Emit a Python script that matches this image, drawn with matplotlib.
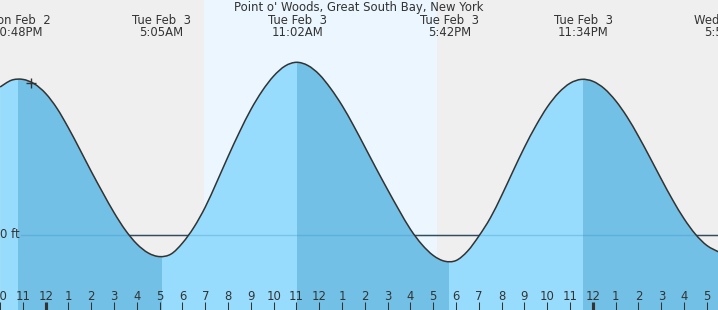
import numpy as np
from matplotlib import pyplot as plt
import matplotlib.transforms as mtransforms
from matplotlib.path import Path
from matplotlib.patches import PathPatch

# tide heights (ft), every half hour from Mon 10PM (hour -2 = 10PM Feb 2)
start_hour = -2.0
step = 0.5
heights = [1.48, 1.548, 1.556, 1.512,
           1.415, 1.265, 1.07, 0.855, 0.635, 0.425, 0.223, 0.047, -0.09, -0.18,
           -0.216, -0.19, -0.08, 0.077, 0.28, 0.528, 0.785, 1.03, 1.255, 1.442,
           1.59, 1.69, 1.727, 1.695, 1.605, 1.465, 1.295, 1.095, 0.88, 0.663,
           0.452, 0.248, 0.056, -0.095, -0.205, -0.262, -0.255, -0.162, -0.01, 0.17,
           0.396, 0.64, 0.878, 1.093, 1.28, 1.423, 1.518, 1.5565, 1.537, 1.464,
           1.342, 1.181, 0.987, 0.776, 0.559, 0.35, 0.162, 0.007, -0.105, -0.1675]

# high / low events (hours from Tue Feb 3 00:00)
event_hours = [-1.2, 5.083, 11.033, 17.7, 23.567, 29.833]
event_days = ['Mon Feb  2', 'Tue Feb  3', 'Tue Feb  3', 'Tue Feb  3', 'Tue Feb  3', 'Wed Feb  4']
event_times = ['10:48PM', '5:05AM', '11:02AM', '5:42PM', '11:34PM', '5:50AM']

# falling tide (high -> low) shaded darker
falling = [(-1.2, 5.083), (11.033, 17.7), (23.567, 29.833)]

sunrise = 6.95
sunset = 17.16

now_hour = -0.66
now_height = 1.52

tick_hours = list(range(-2, 30))
tick_labels = ['10', '11', '12', '1', '2', '3', '4', '5', '6', '7', '8', '9', '10', '11',
               '12', '1', '2', '3', '4', '5', '6', '7', '8', '9', '10', '11',
               '12', '1', '2', '3', '4', '5']
midnights = [0, 24]

title = "Point o' Woods, Great South Bay, New York"

hours = start_hour + step * np.arange(len(heights))

W, H = 718, 310
fig = plt.figure(figsize=(W / 100, H / 100), dpi=100)
ax = fig.add_axes([0, 0, 1, 1])
ax.set_xlim(-2.004, 29.487)
ax.set_ylim(-0.75, 2.35)
ax.set_facecolor('#efefef')
for s in ax.spines.values():
    s.set_visible(False)
ax.set_xticks([])
ax.set_yticks([])

txt = '#333333'
fs = 8.4
plt.rcParams['font.family'] = ['DejaVu Sans']

# smooth path through the points (catmull-rom as bezier)
pts = np.column_stack([hours, heights])
verts = [pts[0]]
codes = [Path.MOVETO]
n = len(pts)
for i in range(n - 1):
    p0 = pts[max(i - 1, 0)]
    p1 = pts[i]
    p2 = pts[i + 1]
    p3 = pts[min(i + 2, n - 1)]
    verts += [p1 + (p2 - p0) / 6, p2 - (p3 - p1) / 6, p2]
    codes += [Path.CURVE4] * 3
curve = Path(verts, codes)
water = Path(verts + [(hours[-1], -1), (hours[0], -1), pts[0]],
             codes + [Path.LINETO, Path.LINETO, Path.CLOSEPOLY])

# daylight
ax.axvspan(sunrise, sunset, color='#ebf6fe', lw=0, zorder=0)

# zero line under the water
ax.axhline(0, xmin=21 / W, color='#333333', lw=1, zorder=1)

# water
ax.add_patch(PathPatch(water, fc='#97dcfc', lw=0, zorder=2))
for a, b in falling:
    r = ax.axvspan(a, b, color='#72c0e5', lw=0, zorder=3)
    r.set_clip_path(water, ax.transData)

ax.axhline(0, xmin=21 / W, color='#2f8cc4', alpha=0.3, lw=1, zorder=4)

ax.add_patch(PathPatch(curve, fill=False, ec='#333333', lw=1.1, zorder=5))
ax.plot([now_hour], [now_height], marker='+', color='#333333', ms=7.5, mew=1, zorder=6)

ax.text(20 / W * 31.491 - 2.004, 0, '0 ft', ha='right', va='center', fontsize=fs, color=txt)

# labels on top / bottom in pixel rows
trans = mtransforms.blended_transform_factory(ax.transData, ax.transAxes)
def py(p):
    return 1 - p / H

for h, d, t in zip(event_hours, event_days, event_times):
    ax.text(h, py(24), d, ha='center', va='baseline', fontsize=fs, color=txt, transform=trans)
    ax.text(h, py(35.8), t, ha='center', va='baseline', fontsize=fs, color=txt, transform=trans)

ax.text(0.5, py(11), title, ha='center', va='baseline', fontsize=fs, color=txt,
        transform=ax.transAxes)

for h, lab in zip(tick_hours, tick_labels):
    ax.text(h, py(300), lab, ha='center', va='baseline', fontsize=fs, color=txt, transform=trans)
    lw = 3 if h in midnights else 1
    ax.plot([h, h], [py(310), py(302)], color='#333333', lw=lw * 0.75,
            transform=trans, solid_capstyle='butt', zorder=6)

fig.savefig('out.png', dpi=100)
